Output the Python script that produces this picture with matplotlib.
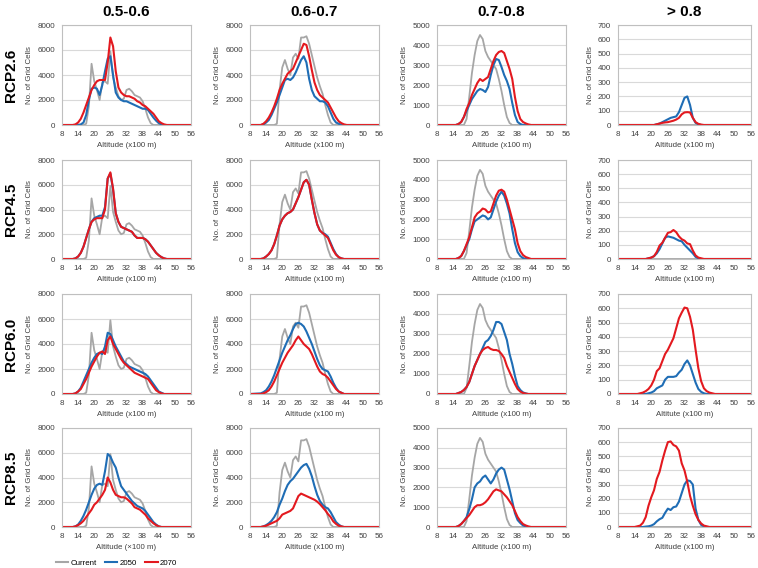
import numpy as np
import matplotlib.pyplot as plt
from matplotlib.lines import Line2D

plt.rcParams['font.family'] = ['Liberation Sans', 'DejaVu Sans']

# altitude bins (x100 m): 8, 12..48, 56
alt = np.r_[8, np.arange(12, 49), 56]

classes = ['0.5-0.6', '0.6-0.7', '0.7-0.8', '> 0.8']
scenarios = ['RCP2.6', 'RCP4.5', 'RCP6.0', 'RCP8.5']
ymax = [8000, 8000, 5000, 700]
ystep = [2000, 2000, 1000, 100]
xticks = [8, 14, 20, 26, 32, 38, 44, 50, 56]

# current distribution (same in every row)
cur_c1 = [0, 0, 0, 0, 0, 0, 100, 1500, 4900,
          3500, 2800, 2000, 3400, 3500, 3300, 5900, 3800, 3000, 2300,
          2000, 2100, 2800, 2900, 2700, 2400, 2300, 2200, 1900, 1300,
          600, 150, 0, 0, 0, 0, 0, 0, 0, 0]
cur_c2 = [0, 0, 0, 0, 0, 0, 0, 100, 2800,
          4600, 5200, 4500, 4000, 5400, 5700, 5300, 7000, 7000, 7100,
          6500, 5600, 4700, 3800, 3100, 2500, 1600, 800, 200, 0,
          0, 0, 0, 0, 0, 0, 0, 0, 0, 0]
cur_c3 = [0, 0, 0, 0, 0, 0, 0, 0, 300,
          1400, 2600, 3500, 4200, 4500, 4300, 3700, 3400, 3200, 3000,
          2800, 2300, 1700, 1000, 400, 100, 0, 0, 0, 0,
          0, 0, 0, 0, 0, 0, 0, 0, 0, 0]
cur_c4 = [0] * 39

# RCP2.6
b11 = [0, 0, 0, 0, 50, 200, 800, 2000, 2900,
       3000, 2900, 2400, 3200, 4300, 5300, 5500, 4000, 2600, 2200,
       2000, 1900, 1900, 1800, 1700, 1600, 1500, 1400, 1300, 1300,
       1200, 900, 600, 350, 150, 50, 0, 0, 0, 0]
r11 = [0, 0, 50, 200, 500, 1000, 1600, 2200, 2800,
       3200, 3500, 3600, 3600, 3600, 5000, 7000, 6300, 4300, 3000,
       2600, 2400, 2300, 2300, 2200, 2100, 1900, 1800, 1600, 1500,
       1300, 1100, 900, 600, 300, 150, 50, 0, 0, 0]
b12 = [0, 0, 50, 200, 400, 800, 1300, 1800, 2400,
       3000, 3600, 3700, 3600, 3800, 4200, 4700, 5200, 5500, 5000,
       3700, 2800, 2300, 2100, 1900, 1900, 1800, 1500, 1000, 500,
       200, 100, 0, 0, 0, 0, 0, 0, 0, 0]
r12 = [0, 0, 100, 300, 600, 1000, 1500, 2100, 2800,
       3300, 3700, 4100, 4300, 4500, 5000, 5500, 6000, 6500, 6400,
       5500, 4400, 3400, 2800, 2400, 2200, 2000, 1800, 1400, 1000,
       600, 300, 150, 50, 0, 0, 0, 0, 0, 0]
b13 = [0, 0, 0, 0, 0, 50, 150, 400, 700,
       1000, 1300, 1500, 1700, 1800, 1750, 1650, 1900, 2500, 3000,
       3300, 3250, 2900, 2500, 2200, 1800, 1100, 500, 150, 50,
       0, 0, 0, 0, 0, 0, 0, 0, 0, 0]
r13 = [0, 0, 0, 0, 0, 50, 150, 400, 800,
       1100, 1500, 1800, 2100, 2300, 2200, 2300, 2400, 2800, 3200,
       3500, 3650, 3700, 3600, 3200, 2800, 2300, 1400, 700, 300,
       150, 80, 30, 0, 0, 0, 0, 0, 0, 0]
b14 = [0, 0, 0, 0, 0, 0, 0, 0, 0,
       0, 0, 5, 10, 20, 30, 40, 50, 55, 60,
       90, 140, 190, 200, 140, 50, 15, 5, 0, 0,
       0, 0, 0, 0, 0, 0, 0, 0, 0, 0]
r14 = [0, 0, 0, 0, 0, 0, 0, 0, 0,
       0, 0, 5, 10, 15, 18, 20, 25, 30, 38,
       50, 75, 88, 90, 88, 50, 20, 8, 3, 0,
       0, 0, 0, 0, 0, 0, 0, 0, 0, 0]

# RCP4.5
b21 = [0, 0, 50, 200, 500, 1000, 1700, 2400, 3000,
       3300, 3400, 3500, 3500, 4200, 6500, 6900, 5600, 3700, 3000,
       2600, 2500, 2400, 2300, 2200, 1900, 1700, 1700, 1700, 1600,
       1400, 1100, 800, 500, 300, 150, 50, 0, 0, 0]
r21 = [0, 0, 50, 200, 500, 1000, 1700, 2400, 3000,
       3200, 3300, 3300, 3300, 4000, 6500, 7000, 5700, 3700, 3000,
       2600, 2500, 2400, 2300, 2200, 1900, 1700, 1700, 1700, 1600,
       1400, 1100, 800, 500, 300, 150, 50, 0, 0, 0]
b22 = [0, 0, 50, 200, 400, 700, 1200, 1900, 2700,
       3200, 3500, 3700, 3800, 4000, 4500, 5000, 5600, 6200, 6400,
       6000, 4800, 3700, 2800, 2300, 2100, 2000, 1800, 1300, 800,
       400, 150, 50, 0, 0, 0, 0, 0, 0, 0]
r22 = [0, 0, 50, 200, 400, 700, 1200, 1900, 2700,
       3200, 3500, 3700, 3800, 4000, 4500, 5000, 5600, 6200, 6400,
       6000, 4800, 3700, 2800, 2300, 2100, 1900, 1700, 1200, 700,
       350, 150, 50, 0, 0, 0, 0, 0, 0, 0]
b23 = [0, 0, 0, 0, 0, 50, 150, 400, 700,
       1000, 1500, 1900, 2000, 2100, 2200, 2150, 2000, 2100, 2500,
       2900, 3200, 3400, 3200, 2800, 2300, 1500, 800, 350, 150,
       50, 0, 0, 0, 0, 0, 0, 0, 0, 0]
r23 = [0, 0, 0, 0, 0, 50, 150, 400, 750,
       1100, 1600, 2100, 2300, 2400, 2550, 2500, 2350, 2400, 2800,
       3200, 3450, 3500, 3400, 3000, 2500, 2000, 1500, 800, 400,
       200, 100, 50, 0, 0, 0, 0, 0, 0, 0]
b24 = [0, 0, 0, 0, 0, 0, 0, 0, 5,
       10, 20, 40, 70, 110, 150, 160, 155, 150, 140,
       130, 125, 100, 80, 60, 40, 15, 5, 0, 0,
       0, 0, 0, 0, 0, 0, 0, 0, 0, 0]
r24 = [0, 0, 0, 0, 0, 0, 0, 0, 5,
       10, 20, 50, 95, 115, 150, 185, 190, 205, 190,
       160, 140, 130, 110, 105, 60, 25, 10, 5, 0,
       0, 0, 0, 0, 0, 0, 0, 0, 0, 0]

# RCP6.0
b31 = [0, 0, 50, 200, 500, 1000, 1500, 2000, 2500,
       2900, 3200, 3300, 3200, 3800, 4900, 4800, 4300, 3800, 3400,
       3000, 2600, 2400, 2200, 2100, 2000, 1900, 1800, 1700, 1600,
       1400, 1100, 800, 500, 200, 100, 0, 0, 0, 0]
r31 = [0, 0, 50, 200, 400, 800, 1200, 1700, 2200,
       2600, 3000, 3300, 3400, 3200, 4300, 4600, 4000, 3600, 3200,
       2800, 2500, 2300, 2100, 1900, 1700, 1600, 1500, 1400, 1300,
       1200, 900, 600, 300, 150, 50, 0, 0, 0, 0]
b32 = [0, 50, 150, 300, 600, 1000, 1500, 2100, 2700,
       3300, 3800, 4300, 4700, 5200, 5600, 5700, 5600, 5400, 5000,
       4500, 4000, 3400, 2800, 2300, 2000, 1900, 1800, 1400, 900,
       500, 200, 100, 0, 0, 0, 0, 0, 0, 0]
r32 = [0, 0, 50, 150, 300, 600, 1000, 1500, 2000,
       2500, 2900, 3300, 3600, 3900, 4300, 4600, 4300, 4000, 3800,
       3600, 3200, 2700, 2200, 1800, 1600, 1500, 1300, 1000, 700,
       400, 200, 100, 0, 0, 0, 0, 0, 0, 0]
b33 = [0, 0, 0, 0, 0, 50, 100, 200, 350,
       600, 1000, 1400, 1700, 2000, 2300, 2600, 2700, 2900, 3200,
       3600, 3600, 3500, 3100, 2700, 2000, 1500, 900, 400, 200,
       80, 30, 0, 0, 0, 0, 0, 0, 0, 0]
r33 = [0, 0, 0, 0, 0, 50, 100, 200, 350,
       600, 1000, 1400, 1700, 2000, 2200, 2300, 2350, 2250, 2200,
       2200, 2150, 2000, 1800, 1400, 1100, 800, 500, 250, 120,
       50, 20, 0, 0, 0, 0, 0, 0, 0, 0]
b34 = [0, 0, 0, 0, 0, 0, 0, 0, 5,
       10, 20, 40, 50, 60, 100, 120, 120, 120, 125,
       150, 170, 210, 235, 200, 140, 80, 35, 15, 5,
       0, 0, 0, 0, 0, 0, 0, 0, 0, 0]
r34 = [0, 0, 0, 0, 0, 5, 10, 20, 35,
       60, 100, 160, 180, 230, 280, 310, 350, 390, 460,
       530, 570, 605, 600, 540, 450, 310, 180, 90, 40,
       20, 10, 5, 0, 0, 0, 0, 0, 0, 0]

# RCP8.5
b41 = [0, 0, 50, 200, 500, 900, 1400, 2000, 2600,
       3100, 3400, 3500, 3400, 4500, 5900, 5700, 5200, 4800, 4000,
       3300, 3000, 2700, 2400, 2100, 1900, 1700, 1600, 1500, 1300,
       1000, 700, 400, 200, 50, 0, 0, 0, 0, 0]
r41 = [0, 0, 50, 150, 300, 500, 800, 1100, 1400,
       1800, 2000, 2300, 2600, 3000, 4000, 3600, 3000, 2600, 2500,
       2400, 2400, 2300, 2100, 1900, 1600, 1500, 1400, 1200, 1000,
       700, 500, 300, 150, 50, 0, 0, 0, 0, 0]
b42 = [0, 0, 50, 150, 300, 500, 800, 1200, 1800,
       2300, 2900, 3400, 3700, 3900, 4200, 4500, 4800, 5000, 5100,
       4700, 4100, 3300, 2600, 2100, 1800, 1600, 1500, 1200, 800,
       400, 200, 50, 0, 0, 0, 0, 0, 0, 0]
r42 = [0, 0, 50, 100, 200, 300, 400, 500, 700,
       1000, 1100, 1200, 1300, 1500, 2000, 2500, 2700, 2600, 2500,
       2400, 2300, 2200, 2050, 1850, 1600, 1350, 1050, 800, 450,
       250, 100, 50, 0, 0, 0, 0, 0, 0, 0]
b43 = [0, 0, 0, 0, 0, 50, 150, 300, 500,
       900, 1400, 2000, 2200, 2300, 2500, 2600, 2400, 2200, 2400,
       2700, 2900, 3000, 2900, 2400, 1900, 1300, 700, 350, 200,
       80, 30, 0, 0, 0, 0, 0, 0, 0, 0]
r43 = [0, 0, 0, 0, 0, 50, 150, 300, 450,
       600, 800, 1000, 1100, 1100, 1150, 1250, 1400, 1600, 1800,
       1900, 1850, 1800, 1650, 1500, 1300, 1100, 800, 500, 300,
       150, 80, 30, 0, 0, 0, 0, 0, 0, 0]
b44 = [0, 0, 0, 0, 0, 0, 0, 3, 5,
       10, 20, 40, 55, 65, 100, 130, 120, 140, 145,
       180, 240, 300, 330, 325, 300, 130, 50, 15, 5,
       0, 0, 0, 0, 0, 0, 0, 0, 0, 0]
r44 = [0, 0, 0, 0, 5, 10, 30, 70, 150,
       210, 260, 340, 390, 470, 540, 600, 605, 580, 570,
       540, 450, 400, 320, 220, 150, 90, 50, 25, 10,
       5, 0, 0, 0, 0, 0, 0, 0, 0, 0]

current = [cur_c1, cur_c2, cur_c3, cur_c4]
y2050 = [[b11, b12, b13, b14], [b21, b22, b23, b24],
         [b31, b32, b33, b34], [b41, b42, b43, b44]]
y2070 = [[r11, r12, r13, r14], [r21, r22, r23, r24],
         [r31, r32, r33, r34], [r41, r42, r43, r44]]

c_cur, c_50, c_70 = '#a6a6a6', '#1f6db5', '#e3191f'

W, H = 758, 568
fig = plt.figure(figsize=(W / 100, H / 100), dpi=100)

lefts = [62, 250, 437, 618]
widths = [129, 129, 129, 133]
tops = [25, 160, 294, 428]
bots = [125, 259, 394, 527]

for i in range(4):
    for j in range(4):
        ax = fig.add_axes([lefts[j] / W, 1 - bots[i] / H,
                           widths[j] / W, (bots[i] - tops[i]) / H])
        ax.plot(alt, current[j], color=c_cur, lw=1.3)
        ax.plot(alt, y2050[i][j], color=c_50, lw=1.5)
        ax.plot(alt, y2070[i][j], color=c_70, lw=1.5)
        ax.set_xlim(8, 56)
        ax.set_ylim(0, ymax[j])
        ax.set_xticks(xticks)
        ax.set_yticks(np.arange(0, ymax[j] + 1, ystep[j]))
        ax.yaxis.grid(True, color='#d9d9d9', lw=0.8)
        ax.set_axisbelow(True)
        ax.tick_params(length=0, labelsize=5.8, colors='#404040')
        ax.tick_params(axis='x', pad=4.5)
        ax.tick_params(axis='y', pad=5)
        for s in ax.spines.values():
            s.set_color('#bfbfbf')
            s.set_linewidth(0.8)
        xl = 'Altitude (x100 m)'
        if i == 3 and j == 0:
            xl = 'Altitude (\u00d7100 m)'
        if i == 2 and j == 3:
            xl = 'Altitute (x100 m)'
        yl = 'No. of  Grid Cells' if (i == 1 and j == 1) else 'No. of Grid Cells'
        ax.set_xlabel(xl, fontsize=5.7, labelpad=3, color='#404040')
        ax.set_ylabel(yl, fontsize=5.7, labelpad=3, color='#404040')
        if i == 0:
            fig.text((lefts[j] + widths[j] / 2) / W, 1 - 12 / H, classes[j],
                     ha='center', va='center', fontsize=11, fontweight='bold')
    fig.text(11 / W, 1 - (tops[i] + bots[i]) / 2 / H, scenarios[i],
             rotation=90, ha='center', va='center', fontsize=11, fontweight='bold')

handles = [Line2D([], [], color=c, lw=1.5) for c in (c_cur, c_50, c_70)]
fig.legend(handles, ['Current', '2050', '2070'], loc='center left',
           bbox_to_anchor=(50 / W, 1 - 563 / H), ncol=3, frameon=False,
           fontsize=5.7, handlelength=1.6, handletextpad=0.3, columnspacing=1.0,
           borderpad=0.2)

fig.savefig('out.png', dpi=100)
